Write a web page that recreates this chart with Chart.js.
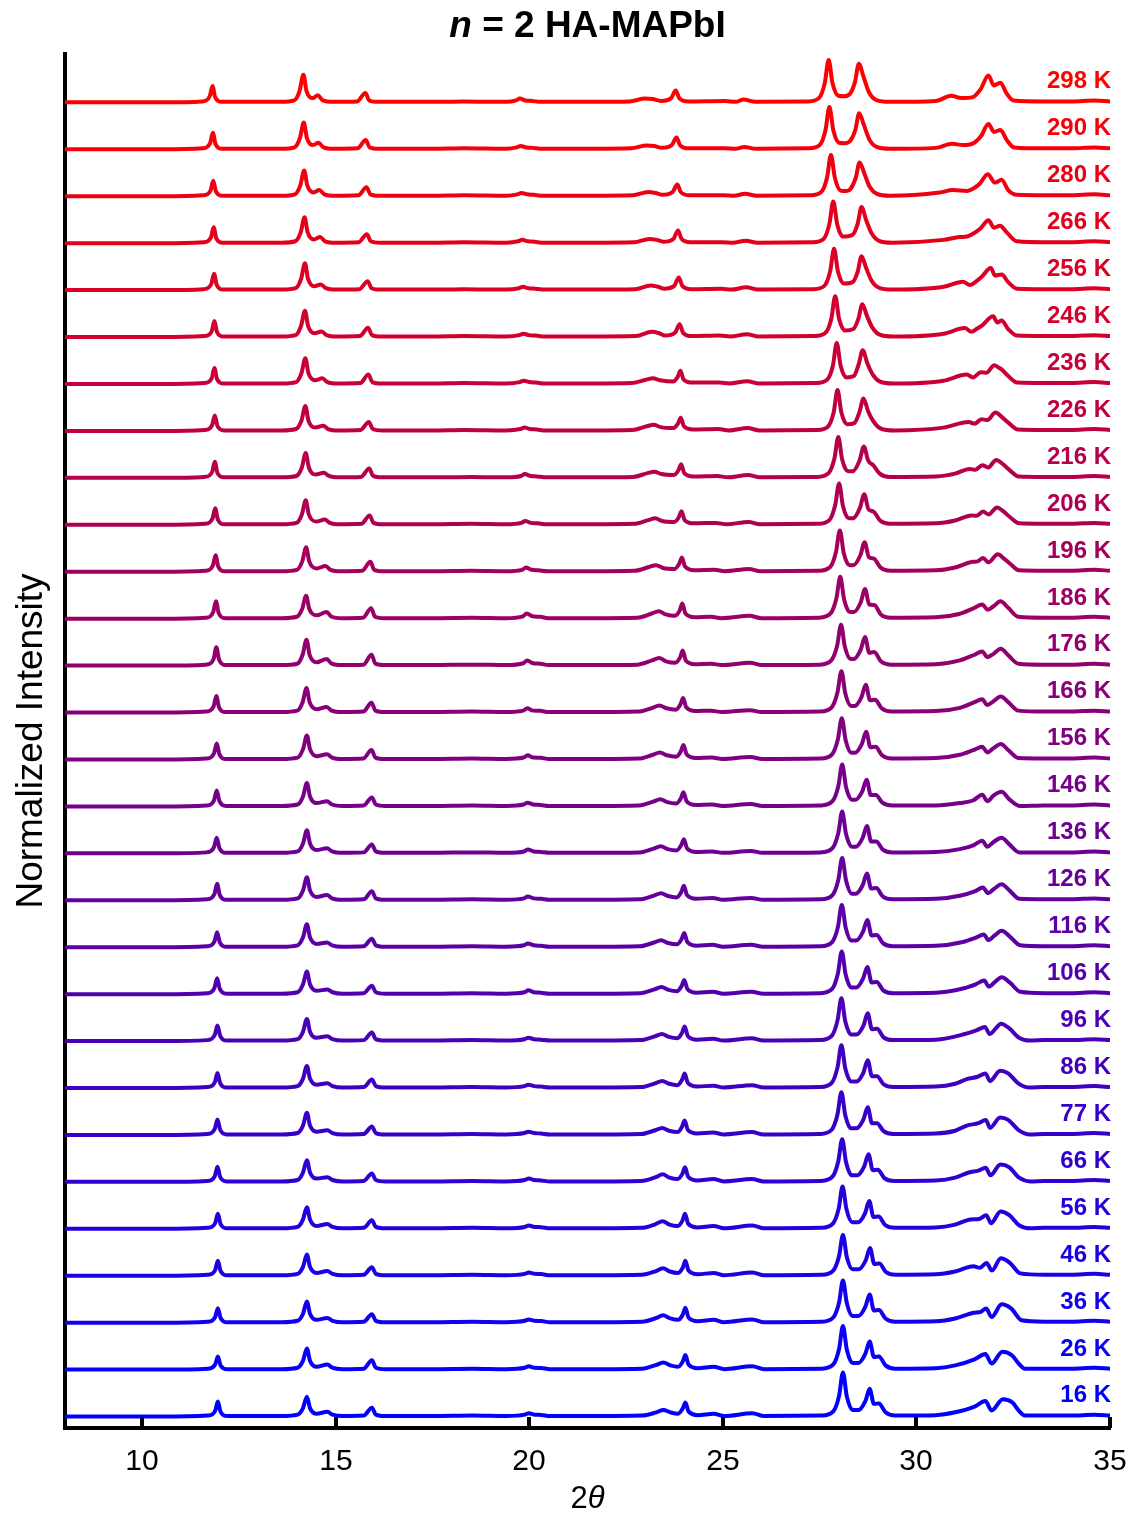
<!DOCTYPE html>
<html>
<head>
<meta charset="utf-8">
<script src="https://cdn.jsdelivr.net/npm/chart.js@4/dist/chart.umd.min.js"></script>
<style>
  html, body { margin: 0; padding: 0; background: #ffffff; }
  canvas { display: block; }
</style>
</head>
<body>
<canvas id="xrd" width="1133" height="1515"></canvas>
<script>
// Temperature of each diffraction pattern, top trace first
const temperatures = [298, 290, 280, 266, 256, 246, 236, 226, 216, 206, 196, 186, 176, 166, 156, 146, 136, 126, 116, 106, 96, 86, 77, 66, 56, 46, 36, 26, 16];
const xTickValues = [10, 15, 20, 25, 30, 35];
const twoThetaMin = 8;
const twoThetaMax = 35;

// Normalized intensity of each pattern, as flat [2theta, I, 2theta, I, ...]
const s298 = [8,.03, 10.5,.03, 11.55,.05, 11.74,.16, 11.81,.38, 11.88,.14, 12.05,.04, 13.6,.04, 13.92,.07, 14.06,.27, 14.16,.62, 14.24,.27, 14.4,.12, 14.53,.18, 14.66,.07, 14.93,.04, 15.55,.05, 15.76,.23, 15.86,.07, 16.11,.04, 17.5,.04, 18.3,.05, 19.4,.04, 19.65,.07, 19.75,.11, 19.9,.07, 20.07,.06, 20.3,.04, 21.6,.04, 22.59,.05, 22.99,.11, 23.18,.10, 23.4,.06, 23.66,.12, 23.78,.28, 23.87,.12, 24.1,.05, 25.06,.06, 25.33,.04, 25.53,.09, 25.83,.04, 27.2,.05, 27.48,.12, 27.63,.44, 27.73,.93, 27.83,.44, 27.98,.17, 28.13,.16, 28.28,.21, 28.41,.46, 28.51,.85, 28.63,.58, 28.77,.25, 28.96,.08, 29.31,.04, 30.5,.06, 30.9,.17, 31.15,.12, 31.45,.14, 31.65,.3, 31.86,.6, 32.0,.39, 32.17,.45, 32.32,.23, 32.5,.07, 33.3,.05, 34.0,.05, 34.6,.07, 35,.05];
const s290 = [8,.03, 10.5,.03, 11.56,.05, 11.75,.16, 11.82,.38, 11.89,.14, 12.06,.04, 13.6,.04, 13.93,.07, 14.07,.27, 14.17,.60, 14.25,.27, 14.41,.12, 14.55,.17, 14.68,.07, 14.95,.04, 15.56,.05, 15.77,.23, 15.87,.07, 16.12,.04, 17.5,.04, 18.3,.05, 19.4,.04, 19.67,.07, 19.77,.10, 19.92,.07, 20.09,.06, 20.32,.04, 21.6,.04, 22.63,.05, 23.03,.11, 23.22,.10, 23.42,.06, 23.68,.12, 23.8,.28, 23.89,.12, 24.12,.05, 25.05,.05, 25.32,.04, 25.55,.08, 25.85,.04, 27.22,.05, 27.5,.12, 27.65,.44, 27.75,.93, 27.85,.44, 28.0,.17, 28.15,.16, 28.29,.21, 28.42,.44, 28.52,.80, 28.64,.55, 28.78,.24, 28.97,.08, 29.32,.04, 30.5,.06, 30.92,.15, 31.2,.12, 31.45,.15, 31.66,.3, 31.86,.57, 32.0,.4, 32.17,.44, 32.33,.23, 32.52,.07, 33.3,.05, 34.0,.05, 34.6,.07, 35,.05];
const s280 = [8,.03, 10.5,.03, 11.57,.05, 11.76,.15, 11.83,.36, 11.9,.13, 12.07,.04, 13.6,.04, 13.94,.07, 14.08,.26, 14.18,.58, 14.26,.26, 14.42,.11, 14.57,.16, 14.7,.07, 14.97,.04, 15.58,.05, 15.79,.22, 15.89,.07, 16.14,.04, 17.5,.04, 18.3,.05, 19.4,.04, 19.69,.07, 19.79,.10, 19.94,.07, 20.11,.06, 20.34,.04, 21.6,.04, 22.67,.05, 23.07,.12, 23.26,.10, 23.44,.06, 23.7,.12, 23.82,.28, 23.91,.12, 24.14,.05, 25.02,.05, 25.29,.04, 25.57,.08, 25.87,.04, 27.26,.05, 27.54,.12, 27.69,.43, 27.79,.91, 27.89,.43, 28.04,.15, 28.19,.14, 28.3,.19, 28.43,.42, 28.53,.75, 28.65,.52, 28.79,.23, 28.98,.08, 29.33,.04, 30.6,.11, 30.94,.16, 31.3,.14, 31.48,.2, 31.64,.3, 31.84,.5, 32.03,.32, 32.2,.38, 32.37,.16, 32.59,.06, 33.3,.05, 34.0,.05, 34.6,.07, 35,.05];
const s266 = [8,.03, 10.5,.03, 11.58,.05, 11.77,.15, 11.84,.37, 11.91,.13, 12.08,.04, 13.6,.04, 13.95,.07, 14.09,.26, 14.19,.58, 14.27,.26, 14.43,.11, 14.59,.16, 14.72,.07, 14.99,.04, 15.59,.05, 15.8,.22, 15.9,.07, 16.15,.04, 17.5,.04, 18.3,.05, 19.4,.04, 19.71,.07, 19.81,.10, 19.96,.07, 20.13,.06, 20.36,.04, 21.6,.04, 22.7,.05, 23.1,.12, 23.29,.10, 23.46,.06, 23.72,.12, 23.84,.30, 23.93,.12, 24.16,.05, 24.98,.05, 25.25,.04, 25.59,.08, 25.89,.04, 27.32,.05, 27.6,.12, 27.75,.44, 27.85,.92, 27.95,.44, 28.1,.17, 28.35,.21, 28.48,.44, 28.58,.80, 28.7,.52, 28.84,.24, 29.03,.08, 29.38,.04, 30.7,.1, 31.12,.16, 31.3,.17, 31.46,.23, 31.66,.35, 31.86,.52, 32.0,.36, 32.16,.4, 32.32,.27, 32.59,.07, 33.3,.05, 34.0,.05, 34.6,.07, 35,.05];
const s256 = [8,.03, 10.5,.03, 11.59,.05, 11.78,.16, 11.85,.38, 11.92,.14, 12.09,.04, 13.6,.04, 13.96,.07, 14.1,.27, 14.2,.60, 14.28,.27, 14.44,.11, 14.61,.15, 14.74,.07, 15.01,.04, 15.61,.05, 15.82,.22, 15.92,.07, 16.17,.04, 17.5,.04, 18.3,.05, 19.4,.04, 19.73,.07, 19.83,.10, 19.98,.07, 20.15,.06, 20.38,.04, 21.6,.04, 22.73,.05, 23.13,.13, 23.32,.10, 23.48,.06, 23.74,.12, 23.86,.30, 23.95,.12, 24.18,.05, 24.95,.06, 25.22,.04, 25.6,.09, 25.9,.04, 27.34,.05, 27.62,.12, 27.77,.43, 27.87,.91, 27.97,.43, 28.12,.17, 28.35,.2, 28.48,.42, 28.58,.75, 28.7,.5, 28.84,.23, 29.03,.08, 29.38,.04, 30.7,.1, 31.2,.21, 31.38,.14, 31.55,.22, 31.68,.31, 31.92,.5, 32.03,.34, 32.2,.36, 32.37,.2, 32.6,.06, 33.3,.05, 34.0,.05, 34.6,.07, 35,.05];
const s246 = [8,.03, 10.5,.03, 11.6,.05, 11.79,.15, 11.86,.37, 11.93,.13, 12.1,.04, 13.6,.04, 13.96,.07, 14.1,.27, 14.2,.59, 14.28,.27, 14.45,.11, 14.63,.15, 14.76,.07, 15.03,.04, 15.62,.05, 15.83,.23, 15.93,.07, 16.18,.04, 17.5,.04, 18.3,.05, 19.4,.04, 19.74,.07, 19.84,.10, 19.99,.07, 20.16,.06, 20.39,.04, 21.6,.04, 22.76,.05, 23.16,.14, 23.35,.11, 23.5,.06, 23.76,.12, 23.88,.30, 23.97,.12, 24.2,.05, 24.92,.06, 25.19,.04, 25.62,.09, 25.92,.04, 27.37,.05, 27.65,.12, 27.8,.42, 27.9,.90, 28.0,.42, 28.15,.17, 28.37,.2, 28.5,.42, 28.6,.73, 28.72,.48, 28.86,.23, 29.05,.08, 29.4,.04, 30.7,.1, 31.25,.22, 31.42,.14, 31.55,.2, 31.7,.28, 31.98,.47, 32.09,.34, 32.2,.38, 32.37,.2, 32.6,.06, 33.3,.05, 34.0,.05, 34.6,.07, 35,.05];
const s236 = [8,.03, 10.5,.03, 11.6,.05, 11.79,.15, 11.86,.37, 11.93,.13, 12.1,.04, 13.6,.04, 13.97,.07, 14.11,.26, 14.21,.58, 14.29,.26, 14.46,.11, 14.65,.15, 14.78,.07, 15.05,.04, 15.63,.05, 15.84,.23, 15.94,.07, 16.19,.04, 17.5,.04, 18.3,.05, 19.4,.04, 19.75,.07, 19.85,.10, 20.0,.07, 20.17,.06, 20.4,.04, 21.6,.04, 22.64,.05, 23.01,.12, 23.19,.15, 23.37,.11, 23.71,.08, 23.83,.18, 23.9,.31, 23.98,.13, 24.22,.06, 24.9,.06, 25.17,.04, 25.63,.09, 25.93,.04, 27.41,.05, 27.69,.12, 27.84,.42, 27.94,.90, 28.04,.42, 28.19,.17, 28.38,.2, 28.51,.46, 28.61,.75, 28.73,.47, 28.87,.23, 29.06,.08, 29.41,.04, 30.7,.1, 31.3,.23, 31.46,.17, 31.66,.28, 31.81,.27, 32.01,.43, 32.12,.38, 32.2,.34, 32.37,.2, 32.6,.06, 33.3,.05, 34.0,.05, 34.6,.07, 35,.05];
const s226 = [8,.03, 10.5,.03, 11.61,.05, 11.8,.15, 11.87,.36, 11.94,.13, 12.11,.04, 13.6,.04, 13.97,.07, 14.11,.25, 14.21,.56, 14.29,.25, 14.47,.1, 14.67,.14, 14.8,.07, 15.07,.04, 15.64,.05, 15.85,.22, 15.95,.07, 16.2,.04, 17.5,.04, 18.3,.05, 19.4,.04, 19.77,.07, 19.87,.10, 20.02,.07, 20.19,.06, 20.42,.04, 21.6,.04, 22.66,.05, 23.03,.13, 23.21,.16, 23.39,.11, 23.72,.09, 23.84,.19, 23.91,.31, 23.99,.13, 24.23,.06, 24.88,.07, 25.15,.04, 25.64,.09, 25.94,.04, 27.43,.05, 27.71,.12, 27.86,.42, 27.96,.90, 28.06,.42, 28.21,.17, 28.4,.2, 28.53,.44, 28.63,.72, 28.75,.45, 28.89,.23, 29.08,.08, 29.43,.04, 30.7,.1, 31.35,.22, 31.5,.18, 31.68,.28, 31.83,.26, 32.04,.42, 32.2,.33, 32.38,.2, 32.62,.06, 33.3,.05, 34.0,.05, 34.6,.07, 35,.05];
const s216 = [8,.03, 10.5,.03, 11.61,.05, 11.8,.15, 11.87,.37, 11.94,.13, 12.11,.04, 13.6,.04, 13.98,.07, 14.12,.25, 14.22,.56, 14.3,.25, 14.48,.1, 14.69,.14, 14.82,.07, 15.09,.04, 15.65,.05, 15.86,.23, 15.96,.07, 16.21,.04, 17.5,.04, 18.5,.05, 19.4,.04, 19.78,.07, 19.88,.11, 20.03,.07, 20.2,.06, 20.43,.04, 21.6,.04, 22.68,.05, 23.05,.13, 23.23,.16, 23.41,.11, 23.73,.09, 23.85,.19, 23.92,.32, 24.0,.13, 24.24,.06, 24.85,.07, 25.12,.04, 25.65,.09, 25.95,.04, 27.43,.05, 27.73,.13, 27.88,.44, 27.98,.90, 28.08,.42, 28.23,.17, 28.35,.17, 28.53,.4, 28.64,.70, 28.75,.4, 28.88,.3, 29.05,.12, 29.3,.05, 30.5,.06, 31.0,.12, 31.38,.22, 31.52,.2, 31.7,.3, 31.85,.25, 32.06,.41, 32.22,.33, 32.4,.2, 32.64,.06, 33.3,.05, 34.0,.05, 34.6,.07, 35,.05];
const s206 = [8,.03, 10.5,.03, 11.62,.05, 11.81,.16, 11.88,.38, 11.95,.14, 12.12,.04, 13.6,.04, 13.98,.07, 14.12,.25, 14.22,.55, 14.3,.25, 14.49,.1, 14.71,.14, 14.84,.07, 15.11,.04, 15.66,.05, 15.87,.23, 15.97,.07, 16.22,.04, 17.5,.04, 18.5,.05, 19.4,.04, 19.79,.07, 19.89,.11, 20.04,.07, 20.21,.06, 20.44,.04, 21.6,.04, 22.7,.05, 23.07,.13, 23.25,.17, 23.43,.11, 23.74,.09, 23.86,.19, 23.93,.32, 24.01,.13, 24.25,.06, 24.82,.07, 25.09,.04, 25.66,.09, 25.96,.04, 27.45,.05, 27.75,.13, 27.9,.45, 28.0,.91, 28.1,.43, 28.25,.17, 28.36,.17, 28.54,.39, 28.65,.68, 28.76,.36, 28.89,.31, 29.06,.12, 29.31,.05, 30.5,.06, 31.0,.12, 31.42,.23, 31.55,.22, 31.72,.31, 31.86,.25, 32.08,.4, 32.24,.32, 32.42,.19, 32.65,.06, 33.3,.05, 34.0,.05, 34.6,.07, 35,.05];
const s196 = [8,.03, 10.5,.03, 11.63,.05, 11.82,.16, 11.89,.38, 11.96,.14, 12.13,.04, 13.6,.04, 13.99,.07, 14.13,.25, 14.23,.55, 14.31,.25, 14.5,.1, 14.73,.15, 14.86,.07, 15.13,.04, 15.68,.05, 15.89,.24, 15.99,.07, 16.24,.04, 17.5,.04, 18.5,.05, 19.4,.04, 19.81,.07, 19.91,.12, 20.06,.07, 20.23,.06, 20.46,.04, 21.6,.04, 22.72,.05, 23.09,.13, 23.27,.17, 23.45,.11, 23.75,.09, 23.87,.2, 23.94,.33, 24.02,.14, 24.26,.06, 24.78,.07, 25.05,.04, 25.67,.09, 25.97,.04, 27.47,.05, 27.77,.13, 27.92,.45, 28.02,.91, 28.12,.43, 28.27,.17, 28.37,.17, 28.55,.38, 28.66,.66, 28.77,.34, 28.9,.31, 29.07,.12, 29.32,.05, 30.5,.06, 31.0,.12, 31.45,.24, 31.58,.25, 31.72,.32, 31.86,.23, 32.1,.4, 32.26,.31, 32.42,.2, 32.65,.06, 33.3,.05, 34.0,.05, 34.6,.07, 35,.05];
const s186 = [8,.03, 10.5,.03, 11.64,.05, 11.83,.17, 11.9,.40, 11.97,.15, 12.14,.04, 13.6,.04, 13.99,.07, 14.13,.24, 14.23,.52, 14.31,.24, 14.5,.1, 14.76,.17, 14.89,.07, 15.16,.04, 15.7,.05, 15.91,.25, 16.01,.07, 16.26,.04, 17.5,.04, 18.51,.05, 19.4,.04, 19.83,.08, 19.93,.14, 20.08,.08, 20.28,.07, 20.48,.04, 21.6,.04, 22.79,.05, 23.16,.14, 23.34,.19, 23.52,.12, 23.76,.09, 23.88,.2, 23.95,.35, 24.03,.14, 24.27,.06, 24.69,.07, 24.96,.04, 25.69,.09, 25.99,.04, 27.48,.05, 27.78,.14, 27.93,.46, 28.03,.92, 28.13,.44, 28.28,.17, 28.38,.17, 28.56,.38, 28.67,.66, 28.78,.33, 28.91,.32, 29.08,.12, 29.33,.05, 30.5,.06, 31.1,.13, 31.47,.25, 31.7,.33, 31.84,.22, 32.0,.3, 32.17,.4, 32.37,.26, 32.63,.07, 33.3,.05, 34.0,.05, 34.6,.07, 35,.05];
const s176 = [8,.03, 10.5,.03, 11.65,.05, 11.84,.17, 11.91,.42, 11.98,.16, 12.15,.04, 13.6,.04, 14.0,.07, 14.14,.26, 14.24,.58, 14.32,.26, 14.5,.1, 14.76,.17, 14.89,.07, 15.16,.04, 15.71,.05, 15.92,.26, 16.02,.07, 16.27,.04, 17.5,.04, 18.51,.05, 19.4,.04, 19.84,.08, 19.94,.14, 20.09,.08, 20.28,.07, 20.49,.04, 21.6,.04, 22.8,.05, 23.17,.14, 23.35,.19, 23.53,.12, 23.77,.09, 23.89,.2, 23.96,.35, 24.04,.14, 24.28,.06, 24.7,.07, 24.97,.04, 25.7,.09, 26.0,.04, 27.5,.05, 27.8,.14, 27.95,.45, 28.05,.90, 28.15,.43, 28.3,.17, 28.38,.17, 28.56,.37, 28.67,.64, 28.78,.3, 28.91,.32, 29.08,.12, 29.33,.05, 30.5,.06, 31.12,.14, 31.47,.25, 31.7,.33, 31.83,.21, 31.99,.28, 32.18,.39, 32.37,.25, 32.63,.07, 33.3,.05, 34.0,.05, 34.6,.07, 35,.05];
const s166 = [8,.03, 10.5,.03, 11.65,.05, 11.84,.16, 11.91,.38, 11.98,.14, 12.15,.04, 13.6,.04, 14.0,.07, 14.14,.25, 14.24,.55, 14.32,.25, 14.5,.1, 14.76,.15, 14.89,.07, 15.16,.04, 15.71,.05, 15.92,.24, 16.02,.07, 16.27,.04, 17.5,.04, 18.51,.05, 19.4,.04, 19.84,.07, 19.94,.12, 20.09,.07, 20.28,.065, 20.49,.04, 21.6,.04, 22.81,.05, 23.18,.13, 23.36,.18, 23.54,.12, 23.78,.09, 23.9,.2, 23.97,.34, 24.05,.14, 24.29,.06, 24.7,.07, 24.97,.04, 25.7,.08, 26.0,.04, 27.51,.05, 27.81,.14, 27.96,.46, 28.06,.91, 28.16,.44, 28.31,.17, 28.4,.17, 28.58,.36, 28.69,.62, 28.8,.29, 28.93,.3, 29.1,.12, 29.35,.05, 30.5,.06, 31.12,.13, 31.47,.24, 31.7,.31, 31.83,.19, 31.99,.27, 32.18,.37, 32.37,.25, 32.63,.07, 33.3,.05, 34.0,.05, 34.6,.07, 35,.05];
const s156 = [8,.03, 10.5,.03, 11.66,.05, 11.85,.16, 11.92,.37, 11.99,.14, 12.16,.04, 13.6,.04, 14.01,.07, 14.15,.25, 14.25,.54, 14.33,.25, 14.5,.1, 14.77,.14, 14.9,.07, 15.17,.04, 15.71,.05, 15.92,.23, 16.02,.07, 16.27,.04, 17.5,.04, 18.51,.05, 19.4,.04, 19.85,.07, 19.95,.12, 20.1,.07, 20.29,.065, 20.5,.04, 21.6,.04, 22.82,.05, 23.19,.13, 23.37,.18, 23.55,.12, 23.79,.09, 23.91,.2, 23.98,.34, 24.06,.14, 24.3,.06, 24.71,.07, 24.98,.04, 25.71,.08, 26.01,.04, 27.52,.05, 27.82,.14, 27.97,.46, 28.07,.91, 28.17,.44, 28.32,.17, 28.41,.17, 28.59,.36, 28.7,.62, 28.81,.29, 28.94,.3, 29.11,.12, 29.36,.05, 30.5,.06, 31.12,.13, 31.47,.23, 31.7,.3, 31.83,.18, 31.99,.27, 32.18,.36, 32.37,.23, 32.63,.06, 33.3,.05, 34.0,.05, 34.6,.07, 35,.05];
const s146 = [8,.03, 10.5,.03, 11.66,.05, 11.85,.16, 11.92,.37, 11.99,.14, 12.16,.04, 13.6,.04, 14.01,.07, 14.15,.24, 14.25,.53, 14.33,.24, 14.5,.1, 14.77,.14, 14.9,.07, 15.17,.04, 15.72,.05, 15.93,.22, 16.03,.07, 16.28,.04, 17.5,.04, 18.51,.05, 19.4,.04, 19.85,.07, 19.95,.11, 20.1,.07, 20.29,.06, 20.5,.04, 21.6,.04, 22.83,.05, 23.2,.13, 23.38,.18, 23.56,.12, 23.79,.09, 23.91,.2, 23.98,.33, 24.06,.14, 24.3,.06, 24.72,.07, 24.99,.04, 25.72,.08, 26.02,.04, 27.53,.05, 27.83,.14, 27.98,.46, 28.08,.92, 28.18,.44, 28.33,.17, 28.42,.17, 28.6,.35, 28.71,.60, 28.82,.27, 28.95,.27, 29.12,.11, 29.37,.05, 30.5,.05, 31.12,.1, 31.47,.16, 31.7,.28, 31.83,.14, 31.99,.26, 32.2,.34, 32.4,.18, 32.66,.04, 33.3,.05, 34.0,.05, 34.6,.07, 35,.05];
const s136 = [8,.03, 10.5,.03, 11.66,.05, 11.85,.16, 11.92,.36, 11.99,.14, 12.16,.04, 13.6,.04, 14.01,.07, 14.15,.24, 14.25,.52, 14.33,.24, 14.5,.1, 14.77,.14, 14.9,.07, 15.17,.04, 15.72,.05, 15.93,.22, 16.03,.07, 16.28,.04, 17.5,.04, 18.51,.05, 19.4,.04, 19.86,.07, 19.96,.11, 20.11,.07, 20.3,.06, 20.51,.04, 21.6,.04, 22.84,.05, 23.21,.13, 23.39,.18, 23.57,.12, 23.8,.09, 23.92,.2, 23.99,.33, 24.07,.14, 24.31,.06, 24.72,.07, 24.99,.04, 25.72,.08, 26.02,.04, 27.53,.05, 27.83,.14, 27.98,.46, 28.08,.92, 28.18,.44, 28.33,.17, 28.43,.17, 28.61,.36, 28.72,.61, 28.83,.28, 28.96,.28, 29.13,.11, 29.38,.05, 30.5,.06, 31.12,.12, 31.47,.2, 31.7,.3, 31.83,.17, 31.99,.27, 32.2,.36, 32.4,.22, 32.66,.05, 33.3,.05, 34.0,.05, 34.6,.07, 35,.05];
const s126 = [8,.03, 10.5,.03, 11.67,.05, 11.86,.16, 11.93,.38, 12.0,.14, 12.17,.04, 13.6,.04, 14.01,.07, 14.15,.24, 14.25,.52, 14.33,.24, 14.5,.1, 14.77,.14, 14.9,.07, 15.17,.04, 15.72,.05, 15.93,.22, 16.03,.07, 16.28,.04, 17.5,.04, 18.52,.05, 19.4,.04, 19.86,.07, 19.96,.11, 20.11,.07, 20.3,.06, 20.51,.04, 21.6,.04, 22.85,.05, 23.22,.13, 23.4,.18, 23.58,.12, 23.8,.09, 23.92,.2, 23.99,.34, 24.07,.14, 24.31,.06, 24.73,.08, 25.0,.04, 25.73,.08, 26.03,.04, 27.53,.05, 27.83,.14, 27.98,.46, 28.08,.93, 28.18,.45, 28.33,.17, 28.43,.17, 28.61,.35, 28.72,.60, 28.83,.28, 28.96,.29, 29.13,.11, 29.38,.05, 30.5,.06, 31.15,.13, 31.5,.22, 31.72,.3, 31.85,.18, 32.0,.27, 32.2,.37, 32.4,.24, 32.66,.06, 33.3,.05, 34.0,.05, 34.6,.07, 35,.05];
const s116 = [8,.03, 10.5,.03, 11.67,.05, 11.86,.15, 11.93,.35, 12.0,.13, 12.17,.04, 13.6,.04, 14.01,.07, 14.15,.24, 14.25,.52, 14.33,.24, 14.5,.1, 14.77,.13, 14.9,.07, 15.17,.04, 15.72,.05, 15.93,.21, 16.03,.07, 16.28,.04, 17.5,.04, 18.52,.05, 19.4,.04, 19.86,.07, 19.96,.11, 20.11,.07, 20.3,.06, 20.51,.04, 21.6,.04, 22.85,.05, 23.22,.13, 23.4,.18, 23.58,.12, 23.81,.09, 23.93,.2, 24.0,.33, 24.08,.14, 24.32,.06, 24.73,.08, 25.0,.04, 25.73,.08, 26.03,.04, 27.52,.05, 27.82,.14, 27.97,.46, 28.07,.93, 28.17,.45, 28.32,.17, 28.44,.17, 28.62,.36, 28.73,.61, 28.84,.28, 28.97,.29, 29.14,.11, 29.39,.05, 30.5,.06, 31.2,.14, 31.52,.23, 31.74,.3, 31.86,.18, 32.02,.28, 32.2,.38, 32.42,.25, 32.68,.07, 33.3,.05, 34.0,.05, 34.6,.07, 35,.05];
const s106 = [8,.03, 10.5,.03, 11.67,.05, 11.86,.16, 11.93,.37, 12.0,.14, 12.17,.04, 13.6,.04, 14.01,.07, 14.15,.24, 14.25,.51, 14.33,.24, 14.5,.1, 14.78,.13, 14.91,.07, 15.18,.04, 15.72,.05, 15.93,.21, 16.03,.07, 16.28,.04, 17.5,.04, 18.52,.05, 19.4,.04, 19.87,.07, 19.97,.11, 20.12,.07, 20.3,.06, 20.52,.04, 21.6,.04, 22.86,.05, 23.23,.13, 23.41,.18, 23.59,.12, 23.81,.09, 23.93,.2, 24.0,.33, 24.08,.14, 24.32,.06, 24.74,.08, 25.01,.04, 25.74,.08, 26.04,.04, 27.52,.05, 27.82,.14, 27.97,.47, 28.07,.94, 28.17,.45, 28.32,.17, 28.44,.17, 28.62,.36, 28.73,.61, 28.84,.28, 28.97,.29, 29.14,.11, 29.39,.05, 30.5,.06, 31.2,.15, 31.53,.24, 31.75,.32, 31.87,.19, 32.03,.29, 32.2,.39, 32.42,.27, 32.68,.08, 33.3,.05, 34.0,.05, 34.6,.07, 35,.05];
const s96 = [8,.03, 10.5,.03, 11.68,.05, 11.87,.16, 11.94,.36, 12.01,.14, 12.18,.04, 13.6,.04, 14.01,.07, 14.15,.23, 14.25,.50, 14.33,.23, 14.5,.1, 14.78,.13, 14.91,.07, 15.18,.04, 15.72,.05, 15.93,.21, 16.03,.07, 16.28,.04, 17.5,.04, 18.52,.05, 19.4,.04, 19.87,.07, 19.97,.10, 20.12,.07, 20.3,.06, 20.52,.04, 21.6,.04, 22.87,.05, 23.24,.13, 23.42,.18, 23.6,.12, 23.82,.09, 23.94,.2, 24.01,.34, 24.09,.14, 24.33,.06, 24.74,.08, 25.01,.04, 25.74,.09, 26.04,.04, 27.51,.05, 27.81,.14, 27.96,.47, 28.06,.94, 28.16,.45, 28.31,.17, 28.45,.17, 28.63,.36, 28.74,.62, 28.85,.28, 28.98,.29, 29.15,.11, 29.4,.05, 30.5,.06, 31.25,.18, 31.55,.26, 31.77,.33, 31.89,.18, 32.05,.3, 32.18,.4, 32.4,.3, 32.65,.1, 32.93,.04, 33.3,.05, 34.0,.05, 34.6,.07, 35,.05];
const s86 = [8,.03, 10.5,.03, 11.68,.05, 11.87,.15, 11.94,.35, 12.01,.13, 12.18,.04, 13.6,.04, 14.01,.07, 14.15,.23, 14.25,.50, 14.33,.23, 14.5,.1, 14.78,.13, 14.91,.07, 15.18,.04, 15.72,.05, 15.93,.21, 16.03,.07, 16.28,.04, 17.5,.04, 18.52,.05, 19.4,.04, 19.87,.07, 19.97,.10, 20.12,.07, 20.3,.06, 20.52,.04, 21.6,.04, 22.88,.05, 23.25,.13, 23.43,.18, 23.61,.12, 23.82,.09, 23.94,.2, 24.01,.34, 24.09,.14, 24.33,.06, 24.75,.08, 25.02,.04, 25.75,.09, 26.05,.04, 27.51,.05, 27.81,.14, 27.96,.47, 28.06,.94, 28.16,.45, 28.31,.17, 28.45,.17, 28.63,.36, 28.74,.62, 28.85,.28, 28.98,.28, 29.15,.11, 29.4,.05, 30.5,.06, 31.0,.12, 31.3,.22, 31.58,.27, 31.78,.34, 31.9,.18, 32.16,.4, 32.37,.34, 32.63,.13, 32.93,.04, 33.3,.05, 34.0,.05, 34.6,.07, 35,.05];
const s77 = [8,.03, 10.5,.03, 11.68,.05, 11.87,.16, 11.94,.36, 12.01,.14, 12.18,.04, 13.6,.04, 14.01,.07, 14.15,.23, 14.25,.50, 14.33,.23, 14.5,.1, 14.78,.13, 14.91,.07, 15.18,.04, 15.72,.05, 15.93,.21, 16.03,.07, 16.28,.04, 17.5,.04, 18.52,.05, 19.4,.04, 19.87,.07, 19.97,.10, 20.12,.07, 20.3,.06, 20.52,.04, 21.6,.04, 22.88,.05, 23.25,.13, 23.43,.18, 23.61,.12, 23.82,.09, 23.94,.2, 24.01,.34, 24.09,.14, 24.33,.06, 24.75,.08, 25.02,.04, 25.75,.09, 26.05,.04, 27.51,.05, 27.81,.14, 27.96,.47, 28.06,.94, 28.16,.45, 28.31,.17, 28.45,.17, 28.63,.36, 28.74,.62, 28.85,.28, 28.98,.28, 29.15,.11, 29.4,.05, 30.5,.06, 31.0,.12, 31.3,.23, 31.6,.28, 31.79,.35, 31.9,.18, 32.16,.4, 32.37,.35, 32.63,.14, 32.93,.04, 33.3,.05, 34.0,.05, 34.6,.07, 35,.05];
const s66 = [8,.03, 10.5,.03, 11.68,.05, 11.87,.15, 11.94,.35, 12.01,.13, 12.18,.04, 13.6,.04, 14.01,.07, 14.15,.23, 14.25,.49, 14.33,.23, 14.5,.1, 14.78,.13, 14.91,.07, 15.18,.04, 15.72,.05, 15.93,.21, 16.03,.07, 16.28,.04, 17.5,.04, 18.53,.05, 19.4,.04, 19.88,.07, 19.98,.10, 20.13,.07, 20.3,.06, 20.53,.04, 21.6,.04, 22.89,.05, 23.26,.13, 23.44,.19, 23.62,.12, 23.83,.09, 23.95,.2, 24.02,.34, 24.1,.14, 24.34,.06, 24.75,.09, 25.02,.04, 25.75,.09, 26.05,.04, 27.53,.05, 27.83,.14, 27.98,.47, 28.08,.94, 28.18,.45, 28.33,.17, 28.47,.17, 28.65,.36, 28.76,.62, 28.87,.28, 29.0,.29, 29.17,.11, 29.42,.05, 30.5,.06, 31.0,.12, 31.35,.23, 31.6,.27, 31.79,.33, 31.91,.17, 32.17,.4, 32.4,.34, 32.65,.12, 32.95,.04, 33.3,.05, 34.0,.05, 34.6,.07, 35,.05];
const s56 = [8,.03, 10.5,.03, 11.69,.05, 11.88,.15, 11.95,.35, 12.02,.13, 12.19,.04, 13.6,.04, 14.01,.07, 14.15,.23, 14.25,.49, 14.33,.23, 14.5,.09, 14.78,.13, 14.91,.07, 15.18,.04, 15.72,.05, 15.93,.21, 16.03,.07, 16.28,.04, 17.5,.04, 18.53,.05, 19.4,.04, 19.88,.07, 19.98,.10, 20.13,.07, 20.3,.065, 20.53,.04, 21.6,.04, 22.89,.05, 23.26,.13, 23.44,.19, 23.62,.12, 23.83,.09, 23.95,.2, 24.02,.35, 24.1,.14, 24.34,.06, 24.76,.09, 25.03,.04, 25.76,.10, 26.06,.04, 27.54,.05, 27.84,.14, 27.99,.46, 28.09,.93, 28.19,.45, 28.34,.17, 28.49,.17, 28.67,.36, 28.78,.62, 28.89,.28, 29.02,.29, 29.19,.11, 29.44,.05, 30.5,.06, 31.0,.12, 31.4,.23, 31.62,.24, 31.8,.32, 31.93,.15, 32.17,.4, 32.4,.32, 32.66,.1, 32.95,.04, 33.3,.05, 34.0,.05, 34.6,.07, 35,.05];
const s46 = [8,.03, 10.5,.03, 11.69,.05, 11.88,.15, 11.95,.35, 12.02,.13, 12.19,.04, 13.6,.04, 14.01,.07, 14.15,.22, 14.25,.48, 14.33,.22, 14.5,.09, 14.78,.13, 14.91,.07, 15.18,.04, 15.72,.05, 15.93,.21, 16.03,.07, 16.28,.04, 17.5,.04, 18.53,.05, 19.4,.04, 19.88,.07, 19.98,.10, 20.13,.07, 20.3,.065, 20.53,.04, 21.6,.04, 22.9,.05, 23.27,.13, 23.45,.19, 23.63,.12, 23.84,.09, 23.96,.2, 24.03,.35, 24.11,.14, 24.35,.06, 24.76,.09, 25.03,.04, 25.76,.10, 26.06,.04, 27.55,.05, 27.85,.14, 28.0,.45, 28.1,.90, 28.2,.43, 28.35,.17, 28.51,.17, 28.69,.36, 28.8,.62, 28.91,.28, 29.04,.29, 29.21,.11, 29.46,.05, 30.5,.06, 31.0,.12, 31.47,.23, 31.64,.2, 31.81,.3, 31.95,.14, 32.18,.4, 32.42,.3, 32.68,.08, 33.3,.05, 34.0,.05, 34.6,.07, 35,.05];
const s36 = [8,.03, 10.5,.03, 11.69,.05, 11.88,.15, 11.95,.34, 12.02,.13, 12.19,.04, 13.6,.04, 14.01,.07, 14.15,.22, 14.25,.48, 14.33,.22, 14.5,.09, 14.78,.13, 14.91,.07, 15.18,.04, 15.72,.05, 15.93,.21, 16.03,.07, 16.28,.04, 17.5,.04, 18.53,.05, 19.4,.04, 19.88,.07, 19.98,.10, 20.13,.07, 20.3,.065, 20.53,.04, 21.6,.04, 22.91,.05, 23.28,.13, 23.45,.19, 23.64,.12, 23.84,.09, 23.96,.2, 24.03,.35, 24.11,.14, 24.35,.06, 24.76,.09, 25.03,.04, 25.76,.10, 26.06,.04, 27.55,.05, 27.85,.14, 28.0,.46, 28.1,.93, 28.2,.45, 28.35,.17, 28.5,.17, 28.68,.37, 28.79,.63, 28.9,.29, 29.03,.3, 29.2,.12, 29.45,.05, 30.5,.06, 31.0,.12, 31.48,.24, 31.66,.26, 31.8,.33, 31.94,.15, 32.2,.42, 32.45,.33, 32.72,.08, 33.3,.05, 34.0,.05, 34.6,.07, 35,.05];
const s26 = [8,.03, 10.5,.03, 11.69,.05, 11.88,.14, 11.95,.31, 12.02,.12, 12.19,.04, 13.6,.04, 14.01,.07, 14.15,.22, 14.25,.48, 14.33,.22, 14.5,.09, 14.78,.14, 14.91,.07, 15.18,.04, 15.72,.05, 15.93,.23, 16.03,.07, 16.28,.04, 17.5,.04, 18.53,.05, 19.4,.04, 19.88,.07, 19.98,.10, 20.13,.07, 20.3,.065, 20.53,.04, 21.6,.04, 22.91,.05, 23.28,.13, 23.46,.18, 23.64,.12, 23.84,.09, 23.96,.2, 24.03,.34, 24.11,.14, 24.35,.06, 24.76,.09, 25.03,.04, 25.76,.10, 26.06,.04, 27.55,.05, 27.85,.14, 28.0,.47, 28.1,.96, 28.2,.46, 28.35,.17, 28.5,.17, 28.68,.37, 28.79,.63, 28.9,.3, 29.03,.31, 29.2,.12, 29.45,.05, 30.5,.06, 31.0,.12, 31.5,.25, 31.78,.36, 31.94,.16, 32.22,.41, 32.47,.33, 32.65,.15, 32.8,.05, 33.3,.05, 34.0,.05, 34.6,.07, 35,.05];
const s16 = [8,.03, 10.5,.03, 11.69,.05, 11.88,.15, 11.95,.35, 12.02,.13, 12.19,.04, 13.6,.04, 14.01,.07, 14.15,.21, 14.25,.45, 14.33,.21, 14.5,.09, 14.78,.13, 14.91,.07, 15.18,.04, 15.72,.05, 15.93,.22, 16.03,.07, 16.28,.04, 17.5,.04, 18.53,.05, 19.4,.04, 19.88,.07, 19.98,.10, 20.13,.07, 20.3,.065, 20.53,.04, 21.6,.04, 22.91,.05, 23.28,.12, 23.46,.17, 23.64,.12, 23.84,.09, 23.96,.2, 24.03,.33, 24.11,.14, 24.35,.06, 24.76,.09, 25.03,.04, 25.76,.10, 26.06,.04, 27.55,.05, 27.85,.14, 28.0,.47, 28.1,.97, 28.2,.46, 28.35,.17, 28.5,.17, 28.68,.36, 28.79,.62, 28.9,.3, 29.03,.31, 29.2,.12, 29.45,.05, 30.5,.06, 31.0,.12, 31.5,.24, 31.78,.36, 31.94,.16, 32.23,.4, 32.48,.33, 32.65,.15, 32.8,.05, 33.3,.05, 34.0,.05, 34.6,.07, 35,.05];

const patterns = [s298, s290, s280, s266, s256, s246, s236, s226, s216, s206, s196, s186, s176, s166, s156, s146, s136, s126, s116, s106, s96, s86, s77, s66, s56, s46, s36, s26, s16];

const FONT = "'Liberation Sans', Arial, Helvetica, sans-serif";
const count = temperatures.length;

// Red at the warmest pattern fading to blue at the coldest
function traceColor(i) {
  const t = i / (count - 1);
  const r = Math.round(255 * (1 - t));
  const b = Math.round(255 * t);
  return 'rgb(' + r + ',0,' + b + ')';
}

// Each pattern is lifted by one intensity unit above the one below it
function stackOffset(i) { return count - 1 - i; }

const datasets = patterns.map(function (flat, i) {
  const offset = stackOffset(i);
  const points = [];
  for (let j = 0; j < flat.length; j += 2) {
    points.push({ x: flat[j], y: flat[j + 1] + offset });
  }
  return {
    label: temperatures[i] + ' K',
    data: points,
    borderColor: traceColor(i),
    backgroundColor: traceColor(i),
    borderWidth: 4,
    pointRadius: 0,
    fill: false,
    cubicInterpolationMode: 'monotone'
  };
});

const decorations = {
  id: 'decorations',
  afterDraw(chart) {
    const ctx = chart.ctx;
    const area = chart.chartArea;
    const xs = chart.scales.x;
    const ys = chart.scales.y;
    const midX = (area.left + area.right) / 2;
    ctx.save();

    // inward tick marks and their labels on the 2theta axis
    ctx.strokeStyle = '#000';
    ctx.fillStyle = '#000';
    ctx.lineWidth = 4;
    ctx.font = '30px ' + FONT;
    ctx.textAlign = 'center';
    ctx.textBaseline = 'alphabetic';
    xTickValues.forEach(function (v) {
      const px = Math.round(xs.getPixelForValue(v));
      ctx.beginPath();
      ctx.moveTo(px, area.bottom);
      ctx.lineTo(px, area.bottom - 11);
      ctx.stroke();
      ctx.fillText(String(v), px, area.bottom + 42);
    });

    // temperature of each pattern at the right end
    ctx.font = 'bold 24px ' + FONT;
    ctx.textAlign = 'right';
    temperatures.forEach(function (T, i) {
      ctx.fillStyle = traceColor(i);
      ctx.fillText(T + ' K', area.right + 1, ys.getPixelForValue(stackOffset(i) + 0.33));
    });

    // chart title with an italic n
    ctx.fillStyle = '#000';
    ctx.textAlign = 'left';
    const italicPart = 'n';
    const plainPart = ' = 2 HA-MAPbI';
    ctx.font = 'italic bold 37px ' + FONT;
    const w1 = ctx.measureText(italicPart).width;
    ctx.font = 'bold 37px ' + FONT;
    const w2 = ctx.measureText(plainPart).width;
    let tx = midX - (w1 + w2) / 2;
    ctx.font = 'italic bold 37px ' + FONT;
    ctx.fillText(italicPart, tx, 37);
    ctx.font = 'bold 37px ' + FONT;
    ctx.fillText(plainPart, tx + w1, 37);

    // x axis title: 2θ
    ctx.font = '31px ' + FONT;
    const a1 = ctx.measureText('2').width;
    ctx.font = 'italic 31px ' + FONT;
    const a2 = ctx.measureText('θ').width;
    tx = midX - (a1 + a2) / 2;
    ctx.font = '31px ' + FONT;
    ctx.fillText('2', tx, 1508);
    ctx.font = 'italic 31px ' + FONT;
    ctx.fillText('θ', tx + a1, 1508);

    // y axis title
    ctx.translate(42, (area.top + area.bottom) / 2);
    ctx.rotate(-Math.PI / 2);
    ctx.font = '37px ' + FONT;
    ctx.textAlign = 'center';
    ctx.fillText('Normalized Intensity', 0, 0);
    ctx.restore();
  }
};

new Chart(document.getElementById('xrd'), {
  type: 'line',
  data: { datasets: datasets },
  options: {
    responsive: false,
    animation: false,
    devicePixelRatio: 1,
    layout: { padding: { left: 65, right: 23, top: 54, bottom: 87 } },
    plugins: {
      legend: { display: false },
      tooltip: { enabled: false },
      title: { display: false }
    },
    scales: {
      x: {
        type: 'linear',
        min: twoThetaMin,
        max: twoThetaMax,
        afterBuildTicks: function (scale) {
          scale.ticks = xTickValues.map(function (v) { return { value: v }; });
        },
        ticks: { display: false },
        grid: { display: false, drawTicks: false },
        border: { display: true, color: '#000', width: 4 }
      },
      y: {
        type: 'linear',
        min: -0.214,
        max: 29.06,
        ticks: { display: false },
        grid: { display: false, drawTicks: false },
        border: { display: true, color: '#000', width: 4 }
      }
    }
  },
  plugins: [decorations]
});
</script>
</body>
</html>
